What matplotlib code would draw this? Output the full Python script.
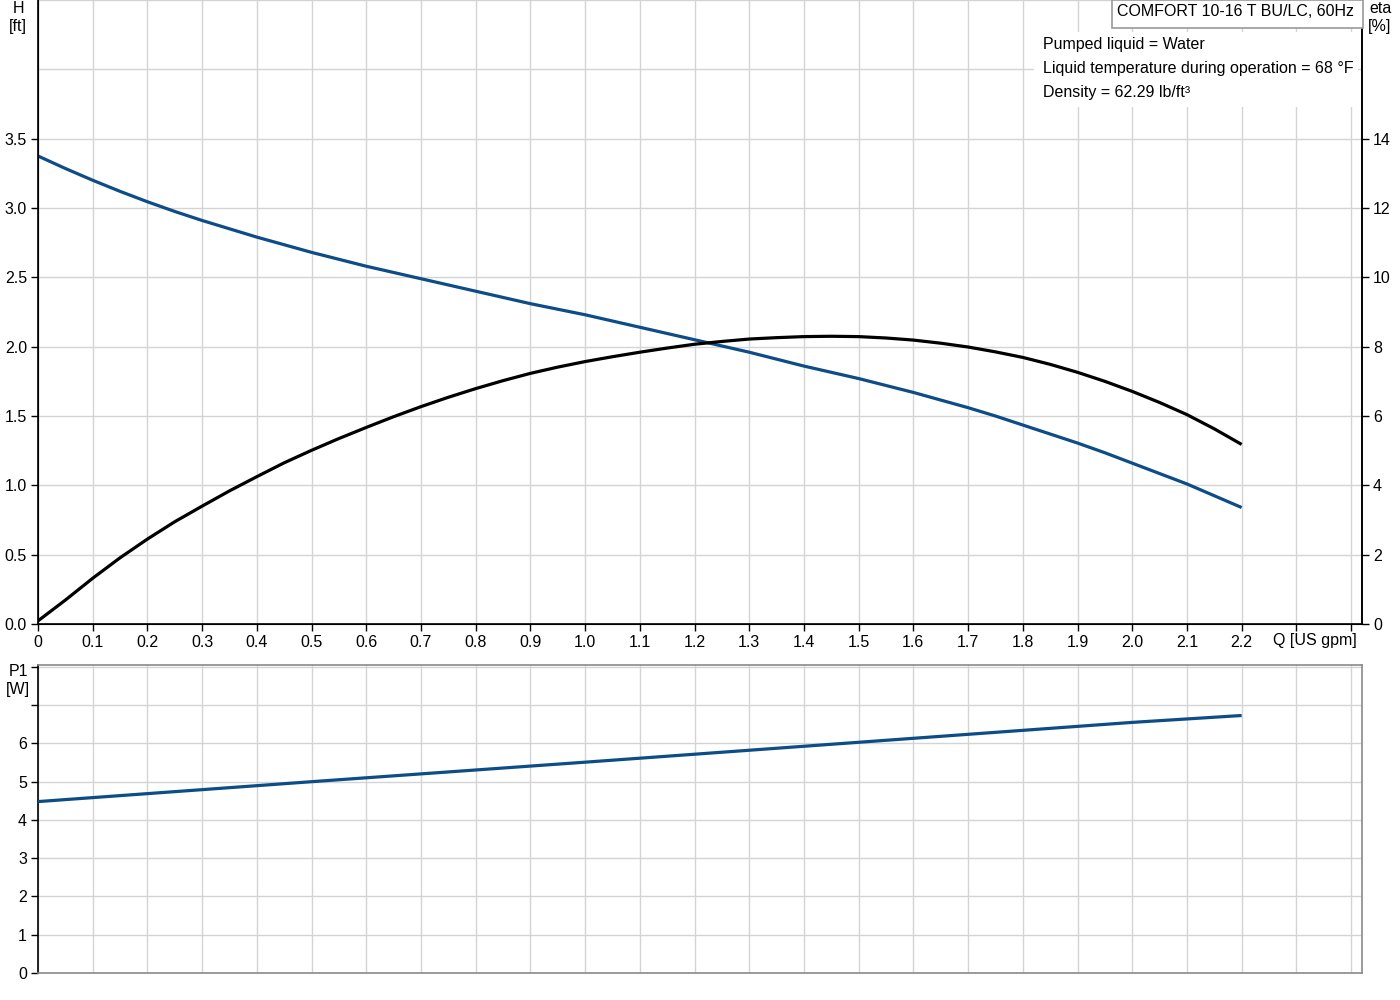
import numpy as np
import matplotlib
matplotlib.use('Agg')
import matplotlib.pyplot as plt
from matplotlib.patches import Rectangle

plt.rcParams['font.family'] = ['Liberation Sans', 'DejaVu Sans']
plt.rcParams['font.size'] = 11.5

# data
q = [0.0, 0.05, 0.1, 0.15, 0.2, 0.25, 0.3, 0.35, 0.4, 0.45, 0.5, 0.55,
     0.6, 0.65, 0.7, 0.75, 0.8, 0.85, 0.9, 0.95, 1.0, 1.05, 1.1, 1.15,
     1.2, 1.25, 1.3, 1.35, 1.4, 1.45, 1.5, 1.55, 1.6, 1.65, 1.7, 1.75,
     1.8, 1.85, 1.9, 1.95, 2.0, 2.05, 2.1, 2.15, 2.2]
head_ft = [3.375, 3.285, 3.20, 3.12, 3.045, 2.975, 2.91, 2.85, 2.79, 2.735, 2.68, 2.63,
           2.58, 2.535, 2.49, 2.445, 2.40, 2.355, 2.31, 2.27, 2.23, 2.185, 2.14, 2.095,
           2.05, 2.005, 1.96, 1.91, 1.86, 1.815, 1.77, 1.72, 1.67, 1.615, 1.56, 1.50,
           1.435, 1.37, 1.305, 1.235, 1.16, 1.085, 1.01, 0.925, 0.84]
eta_pct = [0.09, 0.69, 1.32, 1.91, 2.45, 2.95, 3.40, 3.84, 4.25, 4.65, 5.01, 5.35,
           5.67, 5.98, 6.27, 6.54, 6.79, 7.02, 7.23, 7.41, 7.57, 7.71, 7.84, 7.96,
           8.07, 8.15, 8.22, 8.26, 8.29, 8.30, 8.29, 8.25, 8.19, 8.10, 7.99, 7.85,
           7.69, 7.49, 7.26, 7.00, 6.71, 6.39, 6.04, 5.63, 5.18]
q_p1 = [0.0, 0.5, 1.0, 1.5, 2.0, 2.2]
p1_w = [4.48, 5.00, 5.51, 6.03, 6.55, 6.73]

x_ticks = [round(0.1 * i, 1) for i in range(25)]
x_labels = ['0'] + [f'{v:.1f}' for v in x_ticks[1:23]] + ['', '']
h_ticks = [0.0, 0.5, 1.0, 1.5, 2.0, 2.5, 3.0, 3.5]
eta_ticks = [0, 2, 4, 6, 8, 10, 12, 14]
p1_ticks = [0, 1, 2, 3, 4, 5, 6, 7, 8]
p1_labels = ['0', '1', '2', '3', '4', '5', '6', '', '']

info_lines = ['Pumped liquid = Water',
              'Liquid temperature during operation = 68 \u00b0F',
              'Density = 62.29 lb/ft\u00b3']
title = 'COMFORT 10-16 T BU/LC, 60Hz'

blue = '#0d4c87'
grid_c = '#d4d4d4'
W, H = 1400, 1000

fig = plt.figure(figsize=(14, 10), dpi=100)

def fx(px):
    return px / W

def fy(py):
    return 1 - py / H

# ---- top panel: H and eta
ax = fig.add_axes([fx(38), fy(624), fx(1362) - fx(38), fy(0) - fy(624)])
ax.set_xlim(0, 2.42)
ax.set_ylim(0, 4.5)
ax.set_xticks(x_ticks)
ax.set_xticklabels(x_labels)
ax.set_yticks(h_ticks)
ax.set_yticklabels([f'{v:.1f}' for v in h_ticks])
for v in x_ticks:
    ax.axvline(v, color=grid_c, lw=1, zorder=0)
for v in h_ticks + [4.0, 4.5]:
    ax.axhline(v, color=grid_c, lw=1, zorder=0)
ax.tick_params(direction='out', length=5, width=1, pad=3, colors='black')
for s in ['left', 'bottom', 'right']:
    ax.spines[s].set_color('black')
    ax.spines[s].set_linewidth(1.2)
ax.spines['top'].set_visible(False)
ax.plot(q, head_ft, color=blue, lw=2.3, zorder=3, solid_capstyle='butt')

ax2 = ax.twinx()
ax2.set_ylim(0, 18)
ax2.set_yticks(eta_ticks)
ax2.tick_params(direction='out', length=5, width=1, pad=3, colors='black')
ax2.spines['right'].set_color('black')
ax2.spines['right'].set_linewidth(1.2)
ax2.spines['top'].set_visible(False)
ax2.plot(q, eta_pct, color='black', lw=2.3, zorder=3, solid_capstyle='butt')

ax.text(2.333, -0.0145, 'Q [US gpm]', transform=ax.get_xaxis_transform(),
        ha='center', va='top')

# ---- bottom panel: P1
bx = fig.add_axes([fx(38), fy(973), fx(1362) - fx(38), fy(665) - fy(973)])
bx.set_xlim(0, 2.42)
bx.set_ylim(0, 8.05)
bx.set_xticks(x_ticks)
bx.set_xticklabels([])
bx.tick_params(axis='x', length=0)
bx.set_yticks(p1_ticks)
bx.set_yticklabels(p1_labels)
bx.tick_params(axis='y', direction='out', length=5, width=1, pad=3, colors='black')
for v in x_ticks:
    bx.axvline(v, color=grid_c, lw=1, zorder=0)
for v in p1_ticks:
    bx.axhline(v, color=grid_c, lw=1, zorder=0)
bx.spines['left'].set_color('black')
bx.spines['left'].set_linewidth(1.2)
for s in ['top', 'right', 'bottom']:
    bx.spines[s].set_color('#8a8a8a')
    bx.spines[s].set_linewidth(1.2)
bx.plot(q_p1, p1_w, color=blue, lw=2.3, zorder=3, solid_capstyle='butt')

# ---- axis captions
fig.text(fx(18), fy(1), 'H\n[ft]', ha='center', va='top', linespacing=1.25)
fig.text(fx(1380), fy(1), 'eta\n[%]', ha='center', va='top', linespacing=1.25)
fig.text(fx(18), fy(664), 'P1\n[W]', ha='center', va='top', linespacing=1.25)

# ---- info box and title box
fig.patches.append(Rectangle((fx(1034), fy(107)), fx(1358) - fx(1034), fy(32) - fy(107),
                             transform=fig.transFigure, facecolor='white', edgecolor='none', zorder=1))
for i, line in enumerate(info_lines):
    fig.text(fx(1043), fy(44 + 24 * i), line, ha='left', va='center', zorder=4)

fig.patches.append(Rectangle((fx(1112), fy(28)), fx(1363) - fx(1112), fy(0) - fy(28),
                             transform=fig.transFigure, facecolor='white', edgecolor='#9a9a9a',
                             lw=1.2, zorder=2))
fig.text(fx(1117), fy(12), title, ha='left', va='center', zorder=4)

fig.savefig('out.png', dpi=100)
